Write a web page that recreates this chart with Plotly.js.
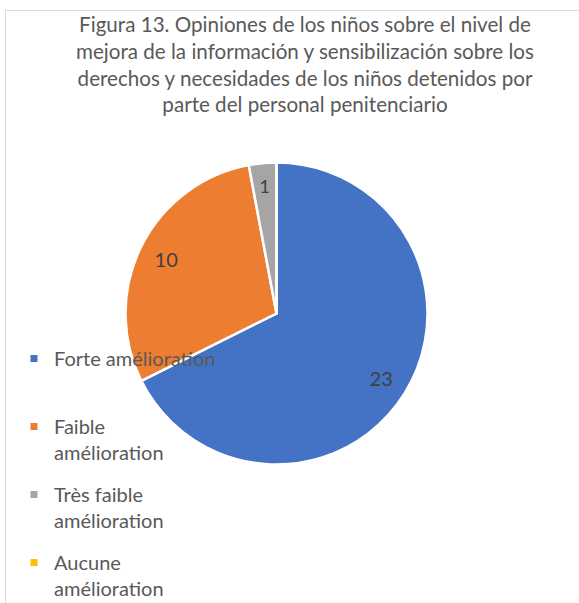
<!DOCTYPE html>
<html>
<head>
<meta charset="utf-8">
<script src="https://cdn.plot.ly/plotly-3.0.1.min.js"></script>
<style>
  html, body { margin: 0; padding: 0; background: #fff; }
  #frame { position: absolute; left: 5px; top: 10px; width: 600px; height: 620px; border-left: 1px solid #d9d9d9; border-top: 1px solid #d9d9d9; }
  #chart { position: absolute; left: 0; top: 0; width: 579px; height: 603px; }
</style>
</head>
<body>
<div id="frame"></div>
<div id="chart"></div>
<script>
const categories = ["Forte amélioration", "Faible amélioration", "Très faible amélioration", "Aucune amélioration"];
const legendLabels = ["Forte amélioration<br> ", "Faible<br>amélioration", "Très faible<br>amélioration", "Aucune<br>amélioration"];
const values = [23, 10, 1, 0];
const colors = ["#4472C4", "#ED7D31", "#A5A5A5", "#FFC000"];
const titleText = "Figura 13. Opiniones de los niños sobre el nivel de<br>mejora de la información y sensibilización sobre los<br>derechos y necesidades de los niños detenidos por<br>parte del personal penitenciario";

const W = 579, H = 603;
const FONT = "Lato, 'Open Sans', sans-serif";
const cx = 276.5, cy = 313.5, R = 151;
function domainFor(r) {
  return {
    x: [(cx - r) / W, (cx + r) / W],
    y: [(H - cy - r) / H, (H - cy + r) / H]
  };
}

const pie = {
  type: "pie",
  labels: categories,
  values: values,
  sort: false,
  direction: "clockwise",
  rotation: 0,
  domain: domainFor(R),
  marker: { colors: colors, line: { color: "#ffffff", width: 2.5 } },
  textinfo: "none",
  hoverinfo: "label+value",
  showlegend: false
};
const labelsPie = {
  type: "pie",
  labels: categories,
  values: values,
  sort: false,
  direction: "clockwise",
  rotation: 0,
  domain: domainFor(140),
  hole: 0.76,
  marker: { colors: categories.map(() => "rgba(0,0,0,0)"), line: { width: 0 } },
  textinfo: "value",
  textposition: "inside",
  insidetextorientation: "horizontal",
  textfont: { family: FONT, size: 20, color: "#404040" },
  hoverinfo: "skip",
  showlegend: false
};

const legendTraces = legendLabels.map((lab, i) => ({
  type: "scatter",
  mode: "markers",
  x: [null], y: [null],
  name: lab,
  legendgroup: "g" + i,
  marker: { symbol: "square", size: 7, color: colors[i] },
  showlegend: true,
  hoverinfo: "skip"
}));

const layout = {
  width: W, height: H,
  margin: { l: 0, r: 0, t: 0, b: 0, autoexpand: false },
  paper_bgcolor: "rgba(0,0,0,0)",
  plot_bgcolor: "rgba(0,0,0,0)",
  font: { family: FONT, color: "#595959" },
  xaxis: { visible: false },
  yaxis: { visible: false },
  title: {
    text: titleText,
    font: { family: FONT, size: 20.6, color: "#595959" },
    x: 305 / W, xanchor: "center",
    y: 1 - 32 / H, yanchor: "top"
  },
  showlegend: true,
  legend: {
    x: 14 / W, xanchor: "left",
    y: 1 - 339 / H, yanchor: "top",
    valign: "top",
    traceorder: "grouped",
    tracegroupgap: 13,
    font: { family: FONT, size: 20, color: "#595959" },
    bgcolor: "rgba(0,0,0,0)",
    itemwidth: 30
  }
};

Plotly.newPlot("chart", [pie, labelsPie].concat(legendTraces), layout, { displayModeBar: false, staticPlot: true });
</script>
</body>
</html>
